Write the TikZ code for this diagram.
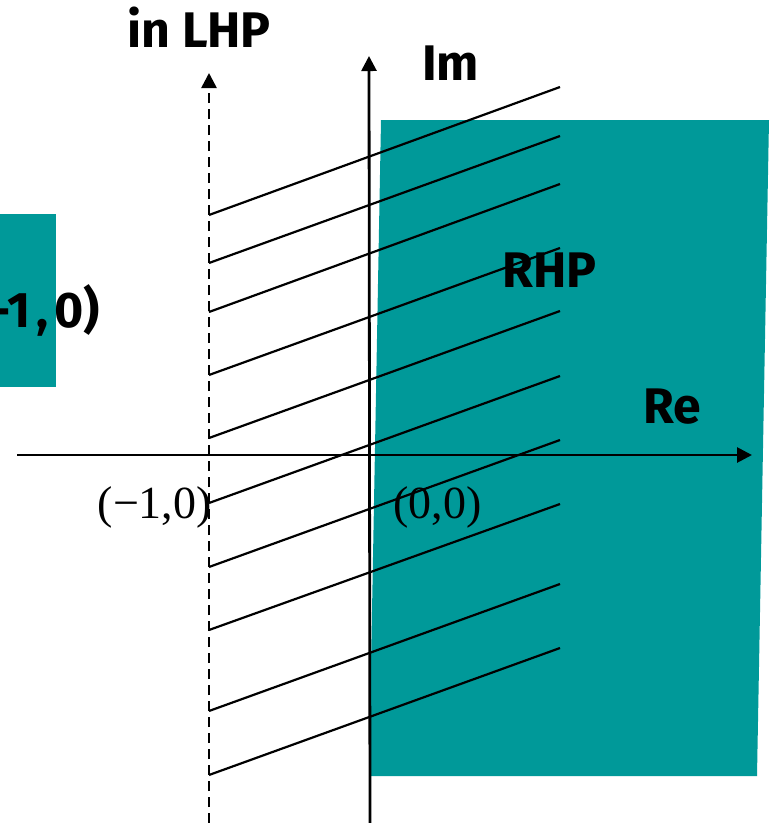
\documentclass[tikz,border=0pt]{standalone}
\usepackage{fontspec}
\usetikzlibrary{arrows.meta}
\newfontfamily\comicf{Fira Sans}
\newfontfamily\tmsf{Liberation Serif}
\definecolor{tealfill}{RGB}{0,153,153}
\begin{document}
\begin{tikzpicture}[x=1pt,y=-1pt,
  hatch/.style={line width=2.2pt,black},
  axisline/.style={line width=2.8pt,black,-{Triangle[length=15pt,width=15pt]}},
  boldlab/.style={inner sep=0pt,font=\comicf\bfseries\fontsize{50}{52}\selectfont},
  timeslab/.style={inner sep=0pt,font=\tmsf\fontsize{46}{48}\selectfont}]
\useasboundingbox (0,0) rectangle (772,823);
% shaded regions
\fill[tealfill] (381,120) -- (769,120) -- (757,776) -- (369,776) -- cycle;
\fill[tealfill] (-5,214) rectangle (56,387);
% hatch lines
\foreach \l/\r in {215/87,263/136,312/184,375/248,438/311,503/376,567/440,630/504,711/584,775/648}
  \draw[hatch] (209,\l) -- (560,\r);
% axes
\coordinate (reS) at (17,455);
\coordinate (reE) at (752,455);
\coordinate (imS) at (370,823);
\coordinate (imE) at (369,56);
\coordinate (lhpS) at (209,823);
\coordinate (lhpE) at (209,73);
\draw[axisline] (reS) -- (reE);
\draw[axisline] (imS) -- (imE);
\draw[axisline,line width=2.6pt,dash pattern=on 10pt off 6pt] (lhpS) -- (lhpE);
% labels
\node[boldlab,anchor=base west] (lhp) at (127,47) {in LHP};
\node[boldlab,anchor=base west] (im) at (422,80) {Im};
\node[boldlab,anchor=base west] (rhp) at (502,287) {RHP};
\node[boldlab,anchor=base west] (re) at (643,423) {Re};
\node[boldlab,anchor=base east] (m10b) at (100,327) {(-1\hspace{6pt},\hspace{6pt}0)};
\node[timeslab,anchor=base east] (m10) at (212,518) {(−1,0)};
\node[timeslab,anchor=base west] (o00) at (393,518) {(0,0)};
\end{tikzpicture}
\end{document}
